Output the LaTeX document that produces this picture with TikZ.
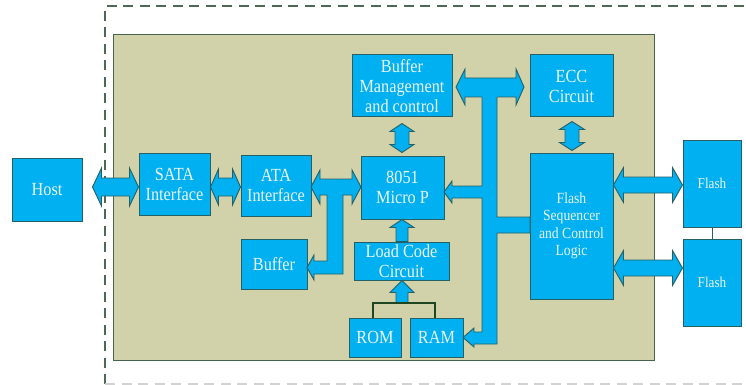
\documentclass[tikz,border=0pt]{standalone}
\usepackage{fontspec}
\setmainfont{Liberation Serif}[FakeStretch=0.88]
\usetikzlibrary{calc}
\definecolor{boxfill}{RGB}{0,176,240}
\definecolor{boxline}{RGB}{36,96,100}
\definecolor{boxtext}{RGB}{236,246,250}
\definecolor{panelfill}{RGB}{210,210,170}
\definecolor{panelline}{RGB}{70,100,75}
\definecolor{dashc}{RGB}{75,105,85}
\definecolor{brkc}{RGB}{30,70,35}
\tikzset{
  blk/.style={draw=boxline, fill=boxfill, line width=1pt, inner sep=0pt, align=center,
    text=boxtext, font=\fontsize{18.5}{20}\selectfont},
  barrow/.style={draw=boxline, fill=boxfill, line width=0.9pt, line join=miter},
  bracketline/.style={draw=brkc, line width=2.6pt},
}
% horizontal double block arrow: #1 left tip, #2 right tip, #3 y, #4 head half, #5 shaft half, #6 head length
\newcommand\HDouble[6]{%
  \path[barrow] let \p1=#1, \p2=#2 in
    (\x1,{-#3pt}) -- ({\x1+#6pt},{-#3pt+#4pt}) -- ({\x1+#6pt},{-#3pt+#5pt})
    -- ({\x2-#6pt},{-#3pt+#5pt}) -- ({\x2-#6pt},{-#3pt+#4pt}) -- (\x2,{-#3pt})
    -- ({\x2-#6pt},{-#3pt-#4pt}) -- ({\x2-#6pt},{-#3pt-#5pt})
    -- ({\x1+#6pt},{-#3pt-#5pt}) -- ({\x1+#6pt},{-#3pt-#4pt}) -- cycle;}
% vertical double block arrow: #1 top tip, #2 bottom tip, #3 x
\newcommand\VDouble[6]{%
  \path[barrow] let \p1=#1, \p2=#2 in
    ({#3pt},\y1) -- ({#3pt+#4pt},{\y1-#6pt}) -- ({#3pt+#5pt},{\y1-#6pt})
    -- ({#3pt+#5pt},{\y2+#6pt}) -- ({#3pt+#4pt},{\y2+#6pt}) -- ({#3pt},\y2)
    -- ({#3pt-#4pt},{\y2+#6pt}) -- ({#3pt-#5pt},{\y2+#6pt})
    -- ({#3pt-#5pt},{\y1-#6pt}) -- ({#3pt-#4pt},{\y1-#6pt}) -- cycle;}
% upward single block arrow: #1 tip (top), #2 tail (bottom), #3 x
\newcommand\VUp[6]{%
  \path[barrow] let \p1=#1, \p2=#2 in
    ({#3pt},\y1) -- ({#3pt+#4pt},{\y1-#6pt}) -- ({#3pt+#5pt},{\y1-#6pt})
    -- ({#3pt+#5pt},\y2) -- ({#3pt-#5pt},\y2)
    -- ({#3pt-#5pt},{\y1-#6pt}) -- ({#3pt-#4pt},{\y1-#6pt}) -- cycle;}
\begin{document}
\begin{tikzpicture}[x=1pt,y=-1pt]
\useasboundingbox (0,0) rectangle (746,385);
\clip (0,0) rectangle (746,385);
\fill[white] (0,0) rectangle (746,385);
% outer dashed boundary
\draw[dashc, line width=1.8pt, dash pattern=on 10pt off 6.5pt] (760,6) -- (105,6) -- (105,384);
\draw[gray!35, line width=1.8pt, dash pattern=on 10pt off 6.5pt] (105,384) -- (760,384);
% controller panel
\draw[panelline, fill=panelfill, line width=1pt] (113,35) rectangle (654,360);

% blocks
\node[blk, minimum width=70pt, minimum height=63pt] (host) at (47,189.5) {Host};
\node[blk, minimum width=71pt, minimum height=62pt] (sata) at (174.5,184) {SATA\\Interface};
\node[blk, minimum width=70pt, minimum height=61pt] (ata) at (276,185.5) {ATA\\Interface};
\node[blk, minimum width=83pt, minimum height=63pt] (micro) at (402.5,187.5) {8051\\Micro P};
\node[blk, minimum width=100pt, minimum height=62pt] (bufm) at (402,86) {Buffer\\Management\\and control};
\node[blk, minimum width=83pt, minimum height=62pt] (ecc) at (571.5,86) {ECC\\Circuit};
\node[blk, minimum width=83pt, minimum height=146pt, font=\fontsize{15.5}{17.5}\selectfont] (fseq) at (571.5,226) {Flash\\Sequencer\\and Control\\Logic};
\node[blk, minimum width=58pt, minimum height=87pt, font=\fontsize{15}{16}\selectfont] (flasha) at (712,183.5) {Flash};
\node[blk, minimum width=58pt, minimum height=87pt, font=\fontsize{15}{16}\selectfont] (flashb) at (712,282.5) {Flash};
\node[blk, minimum width=66pt, minimum height=50pt] (buf) at (274,264) {Buffer};
\node[blk, minimum width=95pt, minimum height=38pt] (load) at (401.5,261) {Load Code\\Circuit};
\node[blk, minimum width=52pt, minimum height=39pt] (rom) at (375,337.5) {ROM};
\node[blk, minimum width=53pt, minimum height=39pt] (ram) at (436.5,337.5) {RAM};
\coordinate (brk) at (402,303);

\draw[boxline, line width=0.6pt] (flasha.south) -- (flashb.north);

% block arrows
\HDouble{([xshift=10pt]host.east)}{(sata.west)}{187}{19}{9}{9}
\HDouble{(sata.east)}{(ata.west)}{187}{18}{9}{8}
\HDouble{(fseq.east)}{(flasha.west)}{185}{17.5}{8}{10}
\HDouble{(fseq.east)}{(flashb.west)}{268}{17.5}{8}{10}
\VDouble{([yshift=-6pt]bufm.south)}{([yshift=3pt]micro.north)}{402}{12}{7}{8}
\VDouble{([yshift=-4pt]ecc.south)}{([yshift=2pt]fseq.north)}{572}{12.5}{7}{8}
\VUp{(micro.south)}{(load.north)}{402}{12}{6}{8}
\VUp{(load.south)}{(brk)}{402}{12}{6}{12}

% ATA <-> 8051 with branch to Buffer
\path[barrow] (311,187) -- (320,170) -- (320,179) -- (352,179) -- (352,170) -- (361,187)
  -- (352,204) -- (352,195) -- (343,195) -- (343,274) -- (314,274) -- (314,280)
  -- (307,267.5) -- (314,255) -- (314,261) -- (327,261) -- (327,195) -- (320,195)
  -- (320,204) -- cycle;

% internal bus
\path[barrow] (456,87) -- (465,69) -- (465,78) -- (516,78) -- (516,69) -- (524,87)
  -- (516,105) -- (516,97) -- (497,97) -- (497,217) -- (530,217) -- (530,233)
  -- (497,233) -- (497,344) -- (474,344) -- (474,347) -- (463,337.5) -- (474,328)
  -- (474,332) -- (482,332) -- (482,198) -- (452,198) -- (452,203) -- (444,192)
  -- (452,181) -- (452,186) -- (482,186) -- (482,97) -- (465,97) -- (465,105) -- cycle;

% ROM/RAM bracket
\draw[bracketline] ([xshift=-2pt]rom.north) |- (brk) -| ([xshift=-1.5pt]ram.north);
\end{tikzpicture}
\end{document}
